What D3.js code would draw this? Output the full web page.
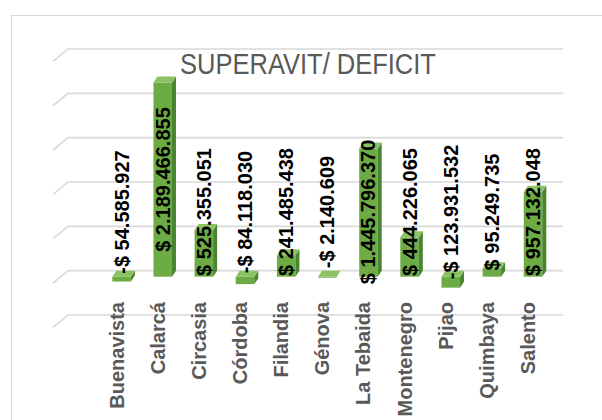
<!DOCTYPE html>
<html>
<head>
<meta charset="utf-8">
<script src="https://cdn.jsdelivr.net/npm/d3@7"></script>
<style>
  html, body { margin: 0; padding: 0; background: #fff; }
  svg { display: block; }
</style>
</head>
<body>
<svg id="chart" width="602" height="420"></svg>
<script>
const municipios = ['Buenavista', 'Calarcá', 'Circasia', 'Córdoba', 'Filandia', 'Génova',
    'La Tebaida', 'Montenegro', 'Pijao', 'Quimbaya', 'Salento'];
const superavit = [-54585927, 2189466855, 525355051, -84118030, 241485438, -2140609,
    1445796370, 444226065, -123931532, 95249735, 957132048];
const gridValues = [-500000000, 0, 500000000, 1000000000, 1500000000, 2000000000, 2500000000];
const title = 'SUPERAVIT/ DEFICIT';

const svg = d3.select('#chart');
const width = 602;
const height = 420;

const locale = d3.formatLocale({
    decimal: ',',
    thousands: '.',
    grouping: [3],
    currency: ['$ ', ''],
    minus: '-'
});
const fmt = locale.format('$,.0f');

// chart frame
svg.append('rect')
    .attr('x', 11.5)
    .attr('y', 15.5)
    .attr('width', width)
    .attr('height', height)
    .attr('fill', '#fff')
    .attr('stroke', '#d9d9d9')
    .attr('stroke-width', 1);

const x = d3.scaleBand()
    .domain(municipios)
    .range([96, 548.6])
    .paddingInner(0.55)
    .paddingOuter(0.275);

const y = d3.scaleLinear()
    .domain([-500000000, 2500000000])
    .range([315, 49]);

// 3d depth offsets
const depthX = 4;
const depthY = 6;
const barShift = 5;

// gridlines on the back wall, with the slanted side wall part
const grid = svg.append('g').attr('class', 'grid');
grid.selectAll('path')
    .data(gridValues)
    .enter()
    .append('path')
    .attr('d', d => `M53,${y(d) + 12.4} L68,${y(d)} L563,${y(d)}`)
    .attr('fill', 'none')
    .attr('stroke', '#d9d9d9')
    .attr('stroke-width', 1.6);

// title, squeezed a bit to get close to the narrow Calibri look
svg.append('text')
    .attr('transform', 'translate(308,74) scale(0.85,1)')
    .attr('text-anchor', 'middle')
    .attr('fill', '#595959')
    .attr('font-family', "'Liberation Sans', Arial, sans-serif")
    .attr('font-size', '30px')
    .text(title);

const data = municipios.map((m, i) => ({ name: m, value: superavit[i] }));
const bw = x.bandwidth();

const bars = svg.selectAll('g.bar')
    .data(data)
    .enter()
    .append('g')
    .attr('class', 'bar');

// front face
bars.append('rect')
    .attr('x', d => x(d.name) + barShift)
    .attr('y', d => Math.min(y(d.value), y(0)) + depthY)
    .attr('width', bw)
    .attr('height', d => Math.max(1, Math.abs(y(d.value) - y(0))))
    .attr('fill', '#6dab44');

// side face
bars.append('polygon')
    .attr('points', d => {
        const x0 = x(d.name) + barShift + bw;
        const top = Math.min(y(d.value), y(0)) + depthY;
        const bot = Math.max(y(d.value), y(0)) + depthY;
        return `${x0},${top} ${x0 + depthX},${top - depthY} ${x0 + depthX},${bot - depthY} ${x0},${bot}`;
    })
    .attr('fill', '#4b8430');

// top face
bars.append('polygon')
    .attr('points', d => {
        const x0 = x(d.name) + barShift;
        const top = Math.min(y(d.value), y(0)) + depthY;
        return `${x0},${top} ${x0 + depthX},${top - depthY} ${x0 + bw + depthX},${top - depthY} ${x0 + bw},${top}`;
    })
    .attr('fill', '#8cc264');

// value labels
svg.selectAll('text.value')
    .data(data)
    .enter()
    .append('text')
    .attr('class', 'value')
    .attr('transform', d => {
        const cx = x(d.name) + barShift + bw / 2;
        const cy = Math.min(212, y(d.value) + 103);
        return `translate(${cx},${cy}) rotate(-90)`;
    })
    .attr('text-anchor', 'middle')
    .attr('dominant-baseline', 'central')
    .attr('fill', '#000')
    .attr('font-family', "'Liberation Sans', Arial, sans-serif")
    .attr('font-weight', 'bold')
    .attr('font-size', '20px')
    .text(d => fmt(d.value));

// category labels
svg.selectAll('text.cat')
    .data(data)
    .enter()
    .append('text')
    .attr('class', 'cat')
    .attr('transform', d => `translate(${x(d.name) + bw / 2},302) rotate(-90)`)
    .attr('text-anchor', 'end')
    .attr('dominant-baseline', 'central')
    .attr('fill', '#595959')
    .attr('font-family', "'Liberation Sans', Arial, sans-serif")
    .attr('font-weight', 'bold')
    .attr('font-size', '20px')
    .text(d => d.name);
</script>
</body>
</html>
